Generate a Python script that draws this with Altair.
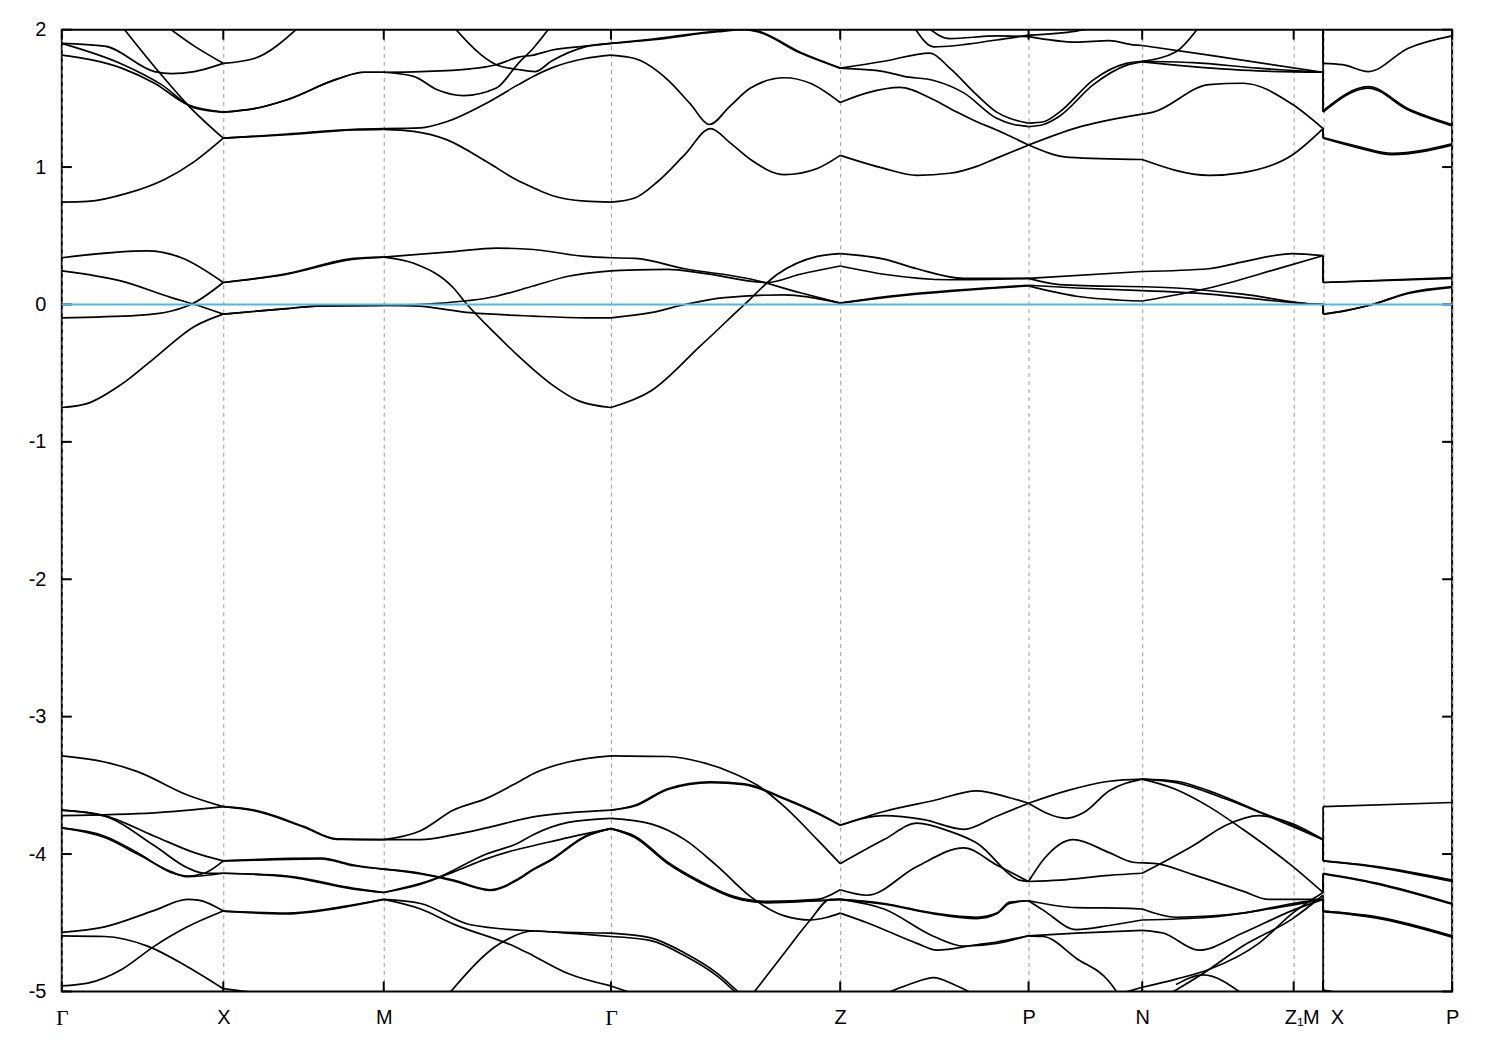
import altair as alt
import pandas as pd

# high-symmetry points (k-path distance) and their labels
kpos = [0, 162, 323, 551, 781, 970, 1084, 1236, 1265.5, 1395]
klab = ["Γ", "X", "M", "Γ", "Z", "P", "N", "Z₁", "M\u00a0\u00a0X", "P"]
e_ticks = [-5, -4, -3, -2, -1, 0, 1, 2]

# ---- bands near the Fermi level (k, E) ----
nf_a = [(0,0.34),(86,0.39),(120,0.34),(162,0.16),(226,0.22),(293,0.33),(323,0.345),(393,0.385),(436,0.41),(473,0.40),(525,0.35),(551,0.34),(575,0.335),(625,0.26),(691,0.185),(741,0.085),(781,0.01),(825,0.05),(938,0.12),(970,0.135),(1018,0.06),(1084,0.025),(1151,0.12),(1218,0.255),(1265.5,0.355),(1265.5,0.16),(1395,0.19)]
nf_b = [(0,0.245),(60,0.17),(110,0.05),(131,0.005),(162,-0.07),(226,-0.03),(260,-0.01),(323,-0.007),(353,-0.01),(410,-0.06),(473,-0.085),(525,-0.097),(551,-0.097),(591,-0.06),(625,0.0),(665,0.05),(725,0.07),(781,0.01),(825,0.055),(938,0.125),(970,0.14),(1018,0.12),(1084,0.10),(1151,0.075),(1218,0.025),(1251,0.005),(1265.5,0.0),(1265.5,-0.07),(1285,-0.048),(1315,0.0),(1351,0.085),(1395,0.13)]
nf_c = [(0,-0.097),(76,-0.08),(110,-0.048),(131,0.005),(162,0.16),(226,0.225),(293,0.335),(323,0.345),(353,0.30),(393,0.12),(406,0.005),(436,-0.22),(458,-0.375),(491,-0.58),(518,-0.70),(551,-0.75),(591,-0.63),(641,-0.30),(685,0.0),(718,0.22),(758,0.35),(781,0.37),(825,0.33),(858,0.26),(905,0.19),(970,0.19),(1084,0.24),(1151,0.26),(1185,0.31),(1235,0.37),(1265.5,0.355),(1265.5,0.16),(1395,0.195)]
nf_d = [(0,-0.75),(26,-0.72),(60,-0.58),(93,-0.39),(133,-0.16),(162,-0.07),(226,-0.03),(260,-0.01),(323,-0.007),(371,0.005),(436,0.06),(473,0.134),(508,0.205),(551,0.245),(608,0.255),(641,0.23),(708,0.16),(741,0.22),(781,0.28),(825,0.22),(891,0.18),(970,0.19),(1001,0.145),(1118,0.12),(1185,0.075),(1251,0.005),(1265.5,0.0),(1265.5,-0.07),(1285,-0.05),(1315,0.0),(1351,0.08),(1395,0.125)]

# ---- conduction bands ----
cb_1 = [(0,0.745),(26,0.75),(66,0.81),(103,0.91),(133,1.04),(162,1.21),(226,1.235),(293,1.27),(323,1.275),(353,1.26),(386,1.20),(426,1.04),(458,0.90),(473,0.85),(491,0.795),(525,0.752),(551,0.745),(575,0.775),(598,0.895),(625,1.09),(651,1.28),(670,1.18),(691,1.055),(725,0.945),(758,0.99),(781,1.085),(825,0.99),(858,0.94),(891,0.955),(918,1.005),(938,1.065),(970,1.16),(1011,1.07),(1084,1.055),(1151,0.94),(1185,0.96),(1235,1.09),(1265.5,1.28),(1265.5,1.21),(1301,1.14),(1335,1.09),(1395,1.16)]
cb_2 = [(63,2.0),(100,1.67),(126,1.455),(162,1.21),(226,1.24),(293,1.275),(323,1.28),(360,1.285),(386,1.33),(426,1.465),(458,1.6),(473,1.66),(491,1.72),(525,1.79),(551,1.815),(575,1.79),(608,1.635),(630,1.465),(650,1.31),(670,1.44),(691,1.575),(725,1.65),(751,1.61),(781,1.47),(808,1.54),(841,1.58),(875,1.49),(898,1.40),(918,1.33),(938,1.27),(970,1.16),(1018,1.285),(1084,1.385),(1095,1.40),(1151,1.60),(1185,1.61),(1235,1.455),(1265.5,1.28),(1265.5,1.215),(1301,1.15),(1335,1.10),(1395,1.17)]
cb_3 = [(0,1.90),(43,1.88),(93,1.695),(110,1.68),(133,1.695),(162,1.755),(193,1.79),(238,2.02)]
cb_4 = [(0,1.90),(60,1.75),(100,1.6),(133,1.43),(162,1.40),(193,1.425),(226,1.49),(276,1.64),(303,1.69),(323,1.69),(360,1.695),(410,1.715),(436,1.745),(458,1.80),(473,1.815),(491,1.85),(525,1.88),(551,1.90),(591,1.925),(658,1.985),(685,2.0),(698,1.985),(741,1.83),(781,1.72),(825,1.77),(871,1.83),(891,1.72),(918,1.525),(938,1.40),(951,1.355),(970,1.32),(985,1.33),(1001,1.40),(1035,1.635),(1068,1.755),(1084,1.77),(1135,1.76),(1200,1.72),(1265.5,1.69),(1265.5,1.40),(1311,1.575),(1351,1.415),(1395,1.30)]
cb_5 = [(0,1.815),(60,1.72),(93,1.61),(126,1.455),(162,1.40),(193,1.425),(226,1.49),(276,1.64),(303,1.69),(323,1.69),(353,1.66),(376,1.565),(403,1.52),(436,1.575),(458,1.755),(473,1.865),(490,2.02)]
cb_6 = [(393,2.02),(436,1.745),(458,1.71),(475,1.695),(491,1.77),(525,1.875),(551,1.90),(591,1.93),(658,1.99),(685,2.005),(698,1.99),(741,1.835),(781,1.72),(825,1.695),(845,1.66),(875,1.63),(905,1.54),(938,1.355),(955,1.31),(970,1.295),(985,1.31),(1001,1.37),(1035,1.60),(1068,1.74),(1084,1.765),(1120,1.74),(1200,1.70),(1265.5,1.69),(1265.5,1.41),(1311,1.585),(1351,1.425),(1395,1.31)]
cb_7 = [(106,2.02),(133,1.88),(162,1.755)]
cb_8 = [(855,2.02),(875,1.875),(938,1.925),(970,1.96),(1018,1.99),(1040,2.02)]
cb_9 = [(868,2.02),(891,1.935),(938,1.955),(970,1.95),(1018,1.91),(1051,1.92),(1075,1.89),(1084,1.885),(1151,1.815),(1265.5,1.69),(1265.5,2.05)]
cb_10 = [(1265.5,2.05),(1265.5,1.755),(1285,1.745),(1311,1.695),(1351,1.865),(1395,1.955)]
cb_11 = [(1084,1.77),(1118,1.84),(1141,2.02)]

# ---- lower valence bands ----
w1 = [(0,-3.285),(43,-3.33),(76,-3.40),(126,-3.57),(162,-3.655),(193,-3.68),(243,-3.80),(276,-3.89),(323,-3.895),(360,-3.83),(393,-3.68),(426,-3.595),(458,-3.475),(473,-3.415),(508,-3.33),(551,-3.285),(608,-3.29),(641,-3.33),(675,-3.415),(698,-3.50),(725,-3.655),(758,-3.895),(781,-4.07),(825,-3.895),(858,-3.775),(891,-3.835),(918,-3.92),(961,-4.19),(970,-4.20),(985,-4.04),(1015,-3.895),(1051,-3.99),(1075,-4.06),(1098,-4.07),(1135,-4.15),(1185,-4.27),(1211,-4.33),(1265.5,-4.33),(1265.5,-4.415),(1318,-4.46),(1395,-4.60)]
w2 = [(0,-3.72),(93,-3.70),(162,-3.655),(193,-3.685),(243,-3.805),(276,-3.893),(323,-3.895),(360,-3.895),(393,-3.86),(426,-3.81),(473,-3.73),(508,-3.70),(551,-3.68),(575,-3.645),(608,-3.525),(651,-3.475),(685,-3.49),(725,-3.595),(758,-3.70),(781,-3.79),(825,-3.69),(875,-3.61),(918,-3.54),(951,-3.59),(970,-3.63),(1008,-3.74),(1025,-3.70),(1051,-3.54),(1084,-3.455),(1118,-3.47),(1151,-3.54),(1201,-3.69),(1235,-3.79),(1265.5,-3.895),(1265.5,-3.655),(1395,-3.625)]
w3 = [(0,-3.68),(43,-3.72),(93,-3.87),(133,-3.99),(162,-4.05),(193,-4.04),(260,-4.03),(293,-4.08),(323,-4.11),(360,-4.14),(393,-4.19),(430,-4.26),(458,-4.18),(473,-4.11),(491,-4.04),(525,-3.87),(551,-3.815),(575,-3.87),(608,-4.06),(641,-4.20),(675,-4.31),(708,-4.345),(758,-4.33),(781,-4.26),(808,-4.30),(858,-4.09),(905,-3.955),(938,-4.08),(970,-4.20),(1001,-4.19),(1051,-4.155),(1084,-4.14),(1105,-4.06),(1135,-3.94),(1168,-3.79),(1201,-3.72),(1235,-3.78),(1265.5,-3.895),(1265.5,-4.05),(1318,-4.09),(1395,-4.19)]
w4 = [(0,-3.68),(43,-3.725),(93,-3.94),(126,-4.10),(143,-4.14),(162,-4.14),(226,-4.16),(293,-4.25),(323,-4.28),(360,-4.22),(393,-4.13),(426,-4.035),(458,-3.965),(473,-3.94),(508,-3.88),(551,-3.815),(575,-3.875),(608,-4.065),(641,-4.205),(675,-4.315),(708,-4.35),(758,-4.34),(781,-4.33),(825,-4.36),(875,-4.43),(918,-4.46),(938,-4.43),(951,-4.35),(970,-4.34),(1018,-4.39),(1071,-4.395),(1084,-4.40),(1118,-4.46),(1185,-4.43),(1235,-4.36),(1265.5,-4.33),(1265.5,-4.415),(1318,-4.455),(1395,-4.595)]
w5 = [(0,-3.81),(43,-3.87),(76,-3.99),(110,-4.135),(126,-4.16),(143,-4.14),(162,-4.05),(193,-4.045),(260,-4.035),(293,-4.085),(323,-4.11),(360,-4.145),(393,-4.195),(430,-4.265),(458,-4.185),(473,-4.115),(491,-4.045),(525,-3.875),(551,-3.815),(575,-3.88),(608,-4.07),(641,-4.21),(675,-4.32),(708,-4.355),(758,-4.34),(781,-4.33),(825,-4.40),(875,-4.60),(905,-4.67),(938,-4.65),(970,-4.595),(1018,-4.575),(1084,-4.555),(1105,-4.575),(1141,-4.70),(1185,-4.575),(1235,-4.41),(1265.5,-4.33),(1265.5,-4.42),(1318,-4.465),(1395,-4.605)]
w6 = [(0,-3.81),(43,-3.88),(76,-4.0),(110,-4.13),(126,-4.165),(162,-4.14),(226,-4.165),(293,-4.255),(323,-4.28),(376,-4.175),(426,-4.0),(458,-3.92),(473,-3.86),(508,-3.77),(551,-3.74),(591,-3.78),(625,-3.895),(658,-4.09),(691,-4.31),(725,-4.45),(751,-4.48),(768,-4.46),(781,-4.43),(808,-4.50),(858,-4.65),(878,-4.70),(918,-4.66),(938,-4.64),(970,-4.595),(985,-4.60),(1018,-4.76),(1051,-4.93),(1060,-5.02)]
w7 = [(0,-4.57),(43,-4.53),(93,-4.41),(126,-4.33),(137,-4.335),(162,-4.415),(226,-4.43),(276,-4.39),(323,-4.33),(360,-4.36),(410,-4.515),(473,-4.56),(551,-4.575),(591,-4.61),(625,-4.72),(658,-4.87),(681,-5.02)]
w8 = [(0,-4.595),(43,-4.60),(86,-4.67),(126,-4.82),(162,-4.98),(205,-5.02)]
w9 = [(0,-4.96),(26,-4.94),(60,-4.84),(93,-4.67),(126,-4.53),(162,-4.415),(226,-4.435),(276,-4.395),(323,-4.33),(360,-4.40),(393,-4.51),(458,-4.685),(473,-4.74),(508,-4.87),(551,-4.96),(575,-5.02)]
w10 = [(388,-5.02),(440,-4.65),(473,-4.56),(508,-4.575),(551,-4.60),(591,-4.63),(625,-4.74),(658,-4.89),(678,-5.02)]
w11 = [(693,-5.02),(725,-4.72),(751,-4.48),(771,-4.33),(781,-4.33),(825,-4.365),(875,-4.435),(918,-4.47),(938,-4.435),(951,-4.36),(970,-4.34),(985,-4.41),(1018,-4.55),(1051,-4.52),(1084,-4.48),(1151,-4.46),(1211,-4.40),(1265.5,-4.33)]
w12 = [(551,-3.68),(575,-3.65),(608,-3.53),(651,-3.48),(685,-3.495),(725,-3.60),(758,-3.705),(781,-3.79),(825,-3.72),(865,-3.75),(905,-3.82),(938,-3.725),(970,-3.63),(1008,-3.54),(1051,-3.47),(1084,-3.455),(1118,-3.48),(1168,-3.60),(1235,-3.80),(1265.5,-3.895),(1265.5,-4.05),(1318,-4.095),(1395,-4.20)]
w13 = [(1084,-3.455),(1118,-3.53),(1151,-3.655),(1185,-3.82),(1235,-4.09),(1265.5,-4.28),(1265.5,-4.14),(1318,-4.21),(1395,-4.36)]
w14 = [(1060,-5.02),(1084,-4.97),(1118,-4.91),(1151,-4.84),(1201,-4.65),(1235,-4.43),(1265.5,-4.28),(1265.5,-4.145),(1318,-4.215),(1395,-4.365)]
w15 = [(1111,-5.02),(1145,-4.87),(1185,-4.67),(1235,-4.47),(1265.5,-4.30),(1265.5,-4.99),(1290,-5.02)]
w16 = [(1118,-4.95),(1145,-4.88),(1185,-5.02)]
w17 = [(825,-5.02),(850,-4.95),(875,-4.90),(895,-4.95),(915,-5.02)]

bands = {
    "nf_a": nf_a, "nf_b": nf_b, "nf_c": nf_c, "nf_d": nf_d,
    "cb_1": cb_1, "cb_2": cb_2, "cb_3": cb_3, "cb_4": cb_4, "cb_5": cb_5,
    "cb_6": cb_6, "cb_7": cb_7, "cb_8": cb_8, "cb_9": cb_9, "cb_10": cb_10,
    "cb_11": cb_11,
    "w1": w1, "w2": w2, "w3": w3, "w4": w4, "w5": w5, "w6": w6, "w7": w7,
    "w8": w8, "w9": w9, "w10": w10, "w11": w11, "w12": w12, "w13": w13,
    "w14": w14, "w15": w15, "w16": w16, "w17": w17,
}

# split every band into pieces between high-symmetry points, so that each
# piece is smooth and the kinks at the special points are kept
kset = set(kpos)
rows = []
for name, pts in bands.items():
    seg, cur = 0, []
    for (k, e) in pts:
        cur.append((k, e))
        if k in kset and len(cur) > 1:
            for i, (kk, ee) in enumerate(cur):
                rows.append({"band": f"{name}_{seg}", "i": i, "k": kk, "E": ee})
            seg += 1
            cur = [(k, e)]
    if len(cur) > 1:
        for i, (kk, ee) in enumerate(cur):
            rows.append({"band": f"{name}_{seg}", "i": i, "k": kk, "E": ee})
df = pd.DataFrame(rows)

W, H = 1395, 965
FONT = "Liberation Sans"
xscale = alt.Scale(domain=[kpos[0], kpos[-1]], nice=False, zero=False)
yscale = alt.Scale(domain=[e_ticks[0], e_ticks[-1]], nice=False, zero=False)

expr = "''"
for v, lab in reversed(list(zip(kpos, klab))):
    expr = f"datum.value == {v} ? '{lab}' : ({expr})"
gamma_test = " || ".join(f"datum.value == {v}" for v, lab in zip(kpos, klab) if lab == "Γ")

xaxis = alt.Axis(values=kpos, labelExpr=expr, title=None, ticks=False,
                 domain=False, grid=True, gridDash=[4, 4],
                 gridColor="#9a9a9a", gridWidth=1,
                 labelFont={"condition": {"test": gamma_test, "value": "Liberation Serif"},
                            "value": FONT},
                 labelFontSize={"condition": {"test": gamma_test, "value": 22},
                                "value": 20},
                 labelColor="black",
                 labelPadding=16, labelFlush=False, labelOverlap=False)
yaxis = alt.Axis(values=e_ticks, title=None, ticks=False, domain=False,
                 grid=False, labelFont=FONT, labelFontSize=20,
                 labelExpr="toString(datum.value)",
                 labelColor="black", labelPadding=16)

lines = alt.Chart(df).mark_line(color="black", strokeWidth=1.7, clip=True,
                                interpolate="monotone").encode(
    x=alt.X("k:Q", scale=xscale, axis=xaxis),
    y=alt.Y("E:Q", scale=yscale, axis=yaxis),
    detail="band:N",
    order="i:Q",
)

ef = pd.DataFrame({"E": [0]})
fermi = alt.Chart(ef).mark_rule(color="#56B4E9", strokeWidth=2).encode(
    y=alt.Y("E:Q", scale=yscale, axis=yaxis))

yt = pd.DataFrame({"E": e_ticks})
kt = pd.DataFrame({"k": kpos})
tick_l = alt.Chart(yt).mark_rule(color="black", strokeWidth=2).encode(
    y=alt.Y("E:Q", scale=yscale, axis=yaxis), x=alt.value(0), x2=alt.value(10))
tick_r = alt.Chart(yt).mark_rule(color="black", strokeWidth=2).encode(
    y=alt.Y("E:Q", scale=yscale, axis=yaxis), x=alt.value(W - 10), x2=alt.value(W))
tick_b = alt.Chart(kt).mark_rule(color="black", strokeWidth=2).encode(
    x=alt.X("k:Q", scale=xscale, axis=xaxis), y=alt.value(H - 10), y2=alt.value(H))
tick_t = alt.Chart(kt).mark_rule(color="black", strokeWidth=2).encode(
    x=alt.X("k:Q", scale=xscale, axis=xaxis), y=alt.value(0), y2=alt.value(10))

chart = alt.layer(lines, tick_l, tick_r, tick_b, tick_t, fermi).properties(
    width=W, height=H,
    autosize=alt.AutoSizeParams(type="none"),
    padding={"left": 54, "top": 20, "right": 40, "bottom": 50},
    background="white",
).configure_view(stroke="black", strokeWidth=2)

chart.save("out.html", embed_options={"renderer": "svg", "actions": False})
